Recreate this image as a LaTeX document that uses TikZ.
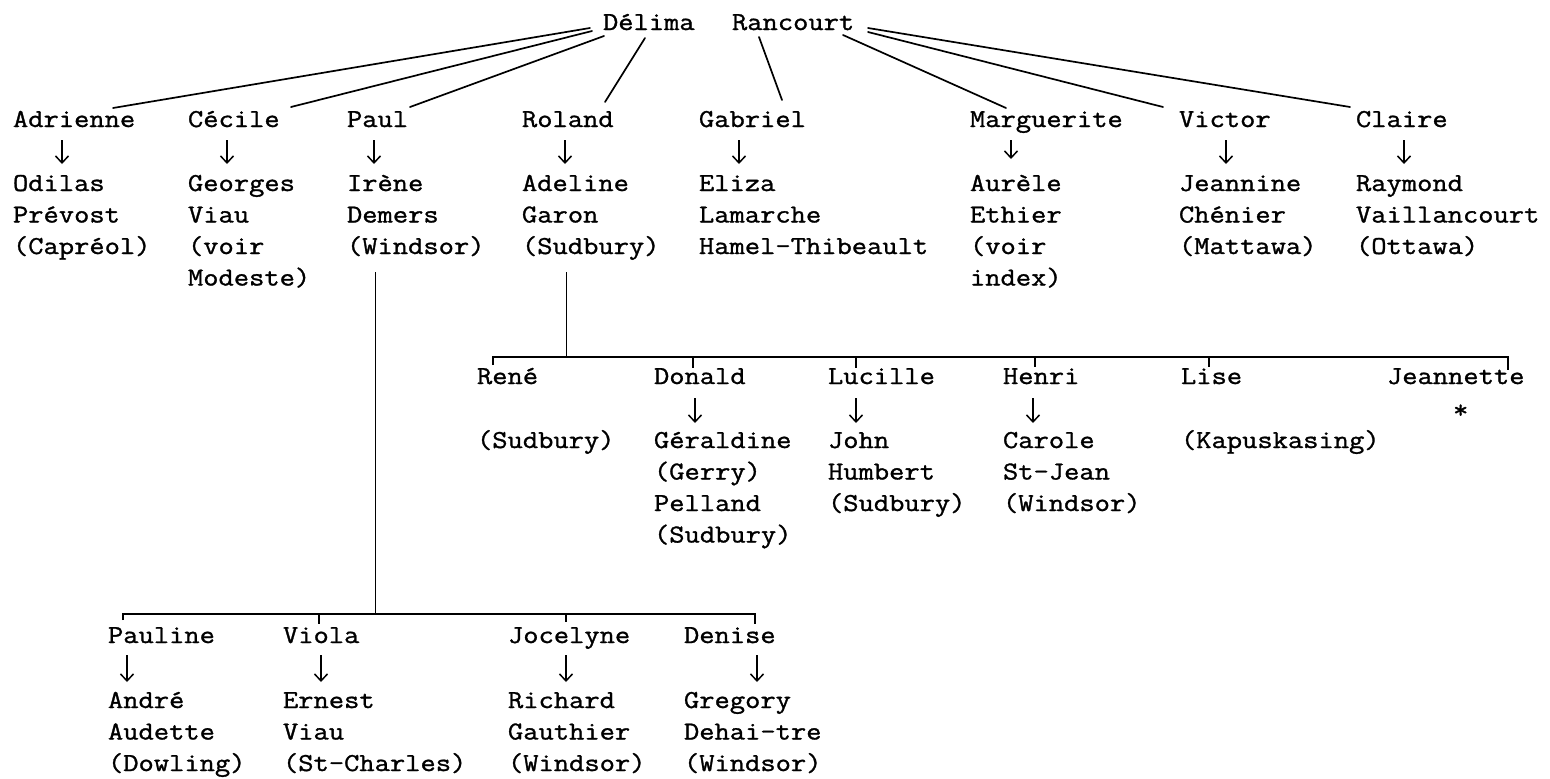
\documentclass[tikz,border=0pt]{standalone}
\usepackage{fontspec}
\newfontfamily\tw{Latin Modern Mono}[FakeStretch=1.15,FakeBold=1.2]
\usetikzlibrary{arrows.meta}
\newcommand{\tstack}[1]{\begin{tabular}[t]{@{}l@{}}#1\end{tabular}}
\begin{document}
\begin{tikzpicture}[x=1pt,y=-1pt,
  every node/.style={inner sep=0pt, outer sep=0pt, anchor=base west,
    font=\tw\fontsize{25.8}{31.5}\selectfont},
  link/.style={line width=1.7pt, line cap=round},
  stem/.style={line width=1pt},
  bar/.style={line width=1.5pt},
  marry/.style={line width=1.5pt, -{Straight Barb[length=7pt,width=13pt,line width=1.5pt]}}]
\useasboundingbox (0,0) rectangle (1550,779);

% parents
\node (del) at (603,30) {Délima};
\node (ran) at (732,30) {Rancourt};

% children of Délima Rancourt
\node (adr) at (13,127) {Adrienne};
\node (cec) at (188,127) {Cécile};
\node (paul) at (347,127) {Paul};
\node (rol) at (522,127) {Roland};
\node (gab) at (699,127) {Gabriel};
\node (mar) at (970,127) {Marguerite};
\node (vic) at (1179,127) {Victor};
\node (cla) at (1356,127) {Claire};

% spouses
\node (odi) at (13,191) {\tstack{Odilas\\Prévost\\(Capréol)}};
\node (geo) at (188,191) {\tstack{Georges\\Viau\\(voir\\Modeste)}};
\node (ire) at (347,191) {\tstack{Irène\\Demers\\(Windsor)}};
\node (ade) at (522,191) {\tstack{Adeline\\Garon\\(Sudbury)}};
\node (eli) at (699,191) {\tstack{Eliza\\Lamarche\\Hamel-Thibeault}};
\node (aur) at (970,191) {\tstack{Aurèle\\Ethier\\(voir\\index)}};
\node (jea) at (1179,191) {\tstack{Jeannine\\Chénier\\(Mattawa)}};
\node (ray) at (1356,191) {\tstack{Raymond\\Vaillancourt\\(Ottawa)}};

% parent links
\draw[link] ([shift={(-13,-2)}]del.base west) -- ([shift={(100,-19)}]adr.base west);
\draw[link] ([shift={(-11,1)}]del.base west) -- ([shift={(103,-20)}]cec.base west);
\draw[link] ([shift={(1,6)}]del.base west) -- ([shift={(63,-20)}]paul.base west);
\draw[link] ([shift={(42,8)}]del.base west) -- ([shift={(83,-25)}]rol.base west);
\draw[link] ([shift={(27,7)}]ran.base west) -- ([shift={(83,-27)}]gab.base west);
\draw[link] ([shift={(111,5)}]ran.base west) -- ([shift={(36,-19)}]mar.base west);
\draw[link] ([shift={(136,2)}]ran.base west) -- ([shift={(-16,-20)}]vic.base west);
\draw[link] ([shift={(136,-2)}]ran.base west) -- ([shift={(-6,-20)}]cla.base west);

% marriage arrows, first generation
\draw[marry] ([shift={(49,13)}]adr.base west) -- ([shift={(49,-27)}]odi.base west);
\draw[marry] ([shift={(39,13)}]cec.base west) -- ([shift={(39,-27)}]geo.base west);
\draw[marry] ([shift={(27,13)}]paul.base west) -- ([shift={(27,-27)}]ire.base west);
\draw[marry] ([shift={(43,13)}]rol.base west) -- ([shift={(43,-27)}]ade.base west);
\draw[marry] ([shift={(40,13)}]gab.base west) -- ([shift={(40,-27)}]eli.base west);
\draw[marry] ([shift={(41,13)}]mar.base west) -- ([shift={(41,-32)}]aur.base west);
\draw[marry] ([shift={(47,13)}]vic.base west) -- ([shift={(47,-27)}]jea.base west);
\draw[marry] ([shift={(48,13)}]cla.base west) -- ([shift={(48,-27)}]ray.base west);

% Roland's children
\node (ren) at (477,384) {René};
\node (don) at (654,384) {Donald};
\node (luc) at (828,384) {Lucille};
\node (hen) at (1003,384) {Henri};
\node (lis) at (1181,384) {Lise};
\node (jnt) at (1387,384) {Jeannette};
\node (ast) at (1453,418) {*};

\node (rens) at (477,448) {(Sudbury)};
\node (ger) at (654,448) {\tstack{Géraldine\\(Gerry)\\Pelland\\(Sudbury)}};
\node (joh) at (828,448) {\tstack{John\\Humbert\\(Sudbury)}};
\node (car) at (1003,448) {\tstack{Carole\\St-Jean\\(Windsor)}};
\node (kap) at (1181,448) {(Kapuskasing)};

\coordinate (rj) at (566,357);
\draw[stem] ([shift={(44,81)}]ade.base west) -- (rj);
\draw[bar] ([shift={(16,-19)}]ren.base west) -- ([shift={(16,-27)}]ren.base west)
  -- ([shift={(121,-27)}]jnt.base west) -- ([shift={(121,-14)}]jnt.base west);
\draw[bar] ([shift={(39,-27)}]don.base west) -- ([shift={(39,-16)}]don.base west);
\draw[bar] ([shift={(28,-27)}]luc.base west) -- ([shift={(28,-16)}]luc.base west);
\draw[bar] ([shift={(32,-27)}]hen.base west) -- ([shift={(32,-17)}]hen.base west);
\draw[bar] ([shift={(28,-27)}]lis.base west) -- ([shift={(28,-17)}]lis.base west);

\draw[marry] ([shift={(41,14)}]don.base west) -- ([shift={(41,-25)}]ger.base west);
\draw[marry] ([shift={(28,14)}]luc.base west) -- ([shift={(28,-25)}]joh.base west);
\draw[marry] ([shift={(30,14)}]hen.base west) -- ([shift={(30,-25)}]car.base west);

% Paul's children
\node (pau) at (108,643) {Pauline};
\node (vio) at (283,643) {Viola};
\node (joc) at (508,643) {Jocelyne};
\node (den) at (684,643) {Denise};

\node (and) at (108,708) {\tstack{André\\Audette\\(Dowling)}};
\node (ern) at (283,708) {\tstack{Ernest\\Viau\\(St-Charles)}};
\node (ric) at (508,708) {\tstack{Richard\\Gauthier\\(Windsor)}};
\node (gre) at (684,708) {\tstack{Gregory\\Dehai-tre\\(Windsor)}};

\coordinate (pj) at (375,614);
\draw[stem] ([shift={(28,81)}]ire.base west) -- (pj);
\draw[bar] ([shift={(15,-23)}]pau.base west) -- ([shift={(15,-29)}]pau.base west)
  -- ([shift={(71,-29)}]den.base west) -- ([shift={(71,-19)}]den.base west);
\draw[bar] ([shift={(36,-29)}]vio.base west) -- ([shift={(36,-19)}]vio.base west);
\draw[bar] ([shift={(58,-29)}]joc.base west) -- ([shift={(58,-21)}]joc.base west);

\draw[marry] ([shift={(19,12)}]pau.base west) -- ([shift={(19,-26)}]and.base west);
\draw[marry] ([shift={(38,12)}]vio.base west) -- ([shift={(38,-26)}]ern.base west);
\draw[marry] ([shift={(58,12)}]joc.base west) -- ([shift={(58,-26)}]ric.base west);
\draw[marry] ([shift={(73,12)}]den.base west) -- ([shift={(73,-26)}]gre.base west);
\end{tikzpicture}
\end{document}
